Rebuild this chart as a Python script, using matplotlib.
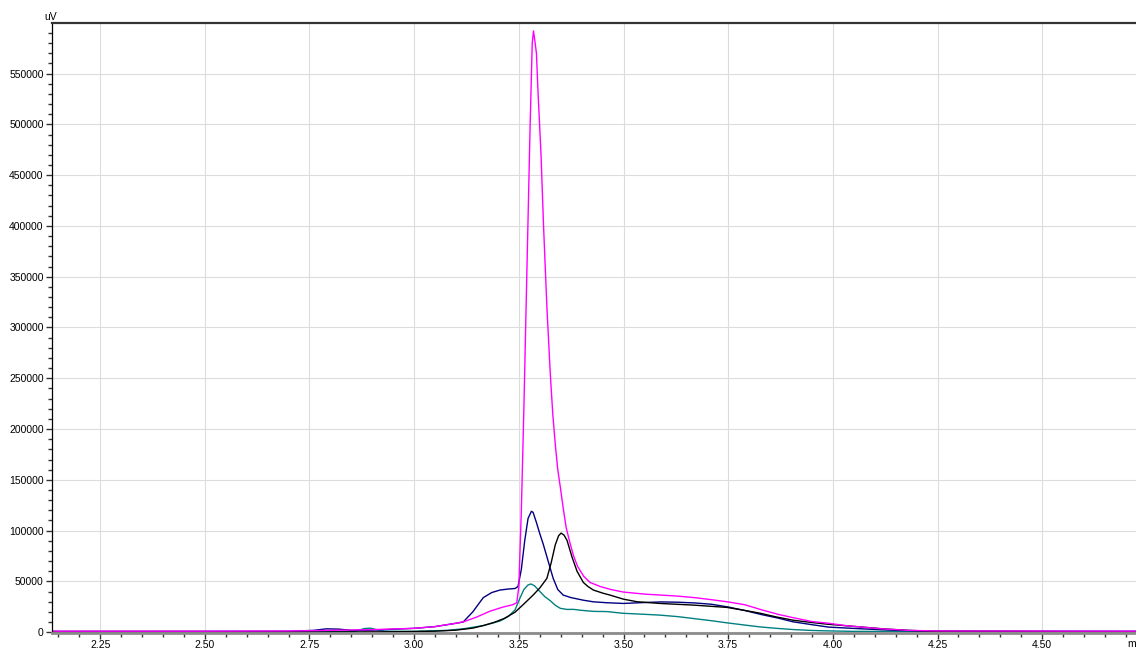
"""
Overlay of four detector traces (uV vs. minutes) around the 3.25 min peak.
"""

import matplotlib

matplotlib.use("Agg")
import matplotlib.pyplot as plt
from matplotlib.ticker import MultipleLocator, FormatStrFormatter

# --- traces (time in min, signal in uV) -------------------------------------
magenta_t = [2.135, 2.50, 2.70, 2.80, 2.90, 3.00, 3.05, 3.10, 3.12, 3.15, 3.18,
             3.21, 3.235, 3.245, 3.250, 3.256, 3.262, 3.270, 3.277, 3.282,
             3.285, 3.288, 3.292, 3.296, 3.303, 3.309, 3.317, 3.325, 3.331,
             3.337, 3.343, 3.349, 3.356, 3.363, 3.372, 3.380, 3.39, 3.405, 3.42,
             3.444, 3.47, 3.50, 3.55, 3.59, 3.63, 3.67, 3.71, 3.75, 3.79, 3.83,
             3.87, 3.905, 3.95, 3.99, 4.03, 4.07, 4.12, 4.18, 4.25, 4.724]
magenta_v = [1000, 1000, 1200, 1800, 2500, 3800, 5500, 8800, 10500, 15000, 20500,
             24500, 27000, 29000, 45000, 120000, 220000, 370000, 500000, 580000,
             592000, 583000, 570000, 530000, 470000, 400000, 320000, 255000, 215000,
             185000, 160000, 143000, 122000, 103000, 88000, 76000, 65000, 55000, 49000,
             45000, 42000, 39500, 37500, 36500, 35500, 34000, 32000, 29800, 27000, 22000,
             17500, 14300, 10500, 8800, 6500, 5000, 3200, 1800, 1200, 1000]

navy_t = [2.135, 2.70, 2.76, 2.79, 2.82, 2.85, 2.90, 3.00, 3.05, 3.10, 3.117,
          3.14, 3.165, 3.185, 3.205, 3.225, 3.241, 3.248, 3.256, 3.264, 3.272,
          3.280, 3.284, 3.292, 3.300, 3.308, 3.320, 3.332, 3.343, 3.356, 3.375,
          3.404, 3.428, 3.46, 3.50, 3.55, 3.59, 3.63, 3.67, 3.71, 3.75, 3.79,
          3.83, 3.87, 3.905, 3.95, 3.99, 4.07, 4.15, 4.25, 4.724]
navy_v = [800, 900, 1800, 3300, 3000, 1800, 2000, 3800, 5500, 8800, 10000,
          20000, 34000, 39000, 41500, 42500, 43000, 45000, 62000, 90000, 112000,
          119000, 118000, 108000, 97000, 87000, 70000, 53000, 42000, 36500, 34000,
          31500, 29900, 29000, 28300, 29200, 29800, 29500, 28800, 27500, 24800, 21300,
          17300, 13800, 10200, 7400, 5000, 3300, 1800, 1000, 900]

black_t = [2.135, 2.80, 2.95, 3.05, 3.10, 3.14, 3.165, 3.19, 3.215, 3.241, 3.26,
           3.284, 3.30, 3.317, 3.327, 3.337, 3.345, 3.351, 3.358, 3.365, 3.377,
           3.389, 3.404, 3.415, 3.428, 3.45, 3.468, 3.50, 3.532, 3.587, 3.666,
           3.747, 3.786, 3.826, 3.865, 3.905, 3.95, 3.986, 4.03, 4.065, 4.12,
           4.18, 4.25, 4.724]
black_v = [200, 200, 400, 1000, 2000, 4000, 6500, 9500, 13500, 19700, 27000,
           36500, 43500, 53000, 68000, 86000, 95000, 97600, 95500, 90500, 74000,
           60000, 49000, 45000, 41500, 38500, 36500, 32500, 30000, 28300, 26700,
           24400, 21700, 18700, 15000, 11800, 9500, 7900, 6400, 5200, 3300,
           1800, 800, 300]

teal_t = [2.135, 2.80, 2.86, 2.88, 2.895, 2.91, 2.93, 3.00, 3.08, 3.12, 3.165,
          3.205, 3.225, 3.241, 3.252, 3.262, 3.272, 3.279, 3.288, 3.298, 3.312,
          3.325, 3.337, 3.349, 3.365, 3.38, 3.40, 3.428, 3.46, 3.499, 3.55,
          3.587, 3.63, 3.666, 3.71, 3.747, 3.79, 3.826, 3.865, 3.905, 3.95,
          3.986, 4.05, 4.724]
teal_v = [500, 500, 900, 3500, 4000, 2500, 1000, 800, 1800, 3500, 6500,
          11000, 15500, 22000, 33000, 42000, 46500, 47500, 45500, 41000, 35000,
          31000, 26500, 23500, 22400, 22500, 21500, 20500, 20300, 18600, 17600,
          16800, 15300, 13500, 11300, 9200, 7000, 5200, 3800, 2600, 1700,
          1300, 800, 500]

x_range = (2.135, 4.724)
y_range = (-800, 599800)

plt.rcParams["font.family"] = ["Liberation Sans", "DejaVu Sans"]

fig = plt.figure(figsize=(11.36, 6.51), dpi=100)
ax = fig.add_axes([52 / 1136, 1 - 633 / 651, 1 - 52 / 1136, (633 - 23) / 651])

lw = 1.0
ax.plot(teal_t, teal_v, color="#008080", lw=lw)
ax.plot(navy_t, navy_v, color="#000080", lw=lw)
ax.plot(black_t, black_v, color="#000000", lw=lw)
ax.plot(magenta_t, magenta_v, color="#ff00ff", lw=lw)

ax.set_xlim(*x_range)
ax.set_ylim(*y_range)

# --- ticks / grid ----------------------------------------------------------
ax.xaxis.set_major_locator(MultipleLocator(0.25))
ax.xaxis.set_minor_locator(MultipleLocator(0.05))
ax.xaxis.set_major_formatter(FormatStrFormatter("%.2f"))
ax.yaxis.set_major_locator(MultipleLocator(50000))
ax.yaxis.set_minor_locator(MultipleLocator(10000))
ax.yaxis.set_major_formatter(FormatStrFormatter("%d"))

ax.tick_params(axis="both", which="major", direction="out", length=4,
               width=1, color="#333333", labelsize=7.5, pad=2)
ax.tick_params(axis="both", which="minor", direction="out", length=3,
               width=1, color="#333333")
ax.tick_params(axis="x", which="major", pad=1)

ax.grid(True, which="major", color="#dcdcdc", lw=0.8)
ax.set_axisbelow(True)

# --- spines ----------------------------------------------------------------
ax.spines["top"].set_color("#333333")
ax.spines["top"].set_linewidth(1.6)
ax.spines["left"].set_color("#000000")
ax.spines["left"].set_linewidth(0.9)
ax.spines["bottom"].set_color("#8c8c8c")
ax.spines["bottom"].set_linewidth(2.0)
ax.spines["right"].set_visible(False)

# axis unit labels, placed like the instrument software does
fig.text(51 / 1136, 1 - 17 / 651, "uV", fontsize=7.5, ha="center", va="center")
fig.text(1127 / 1136, 1 - 644 / 651, "m", fontsize=7.5, ha="left", va="center")

fig.savefig("out.png", dpi=100)
